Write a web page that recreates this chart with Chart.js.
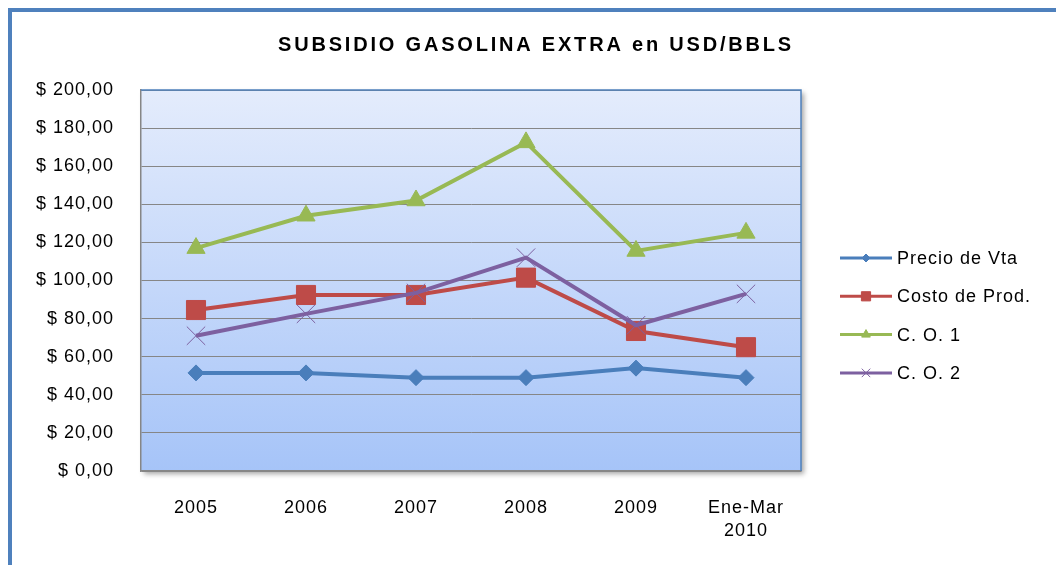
<!DOCTYPE html>
<html>
<head>
<meta charset="utf-8">
<script src="https://cdn.jsdelivr.net/npm/chart.js@4/dist/chart.umd.min.js"></script>
<style>
  body { margin: 0; background: #fff; }
  #frame { position: absolute; left: 8px; top: 8px; width: 1100px; height: 600px;
           border-top: 4px solid #4F81BD; border-left: 4px solid #4F81BD; }
  #chart { position: absolute; left: 0; top: 0; }
</style>
</head>
<body>
<div id="frame"></div>
<canvas id="chart" width="1056" height="565"></canvas>
<script>
const categories = ["2005", "2006", "2007", "2008", "2009", ["Ene-Mar", "2010"]];
const precioVta = [51.5, 51.5, 49, 49, 54, 49];
const costoProd = [84.5, 92.4, 92.4, 101.5, 73.5, 65];
const co1 = [117, 134, 142, 172.5, 115.5, 125];
const co2 = [71, 82.5, 93.5, 112, 76.5, 93];
const seriesNames = ["Precio de Vta", "Costo de Prod.", "C. O. 1", "C. O. 2"];
const seriesColors = ["#4A7EBB", "#BE4B48", "#98B954", "#7D60A0"];
const chartTitle = "SUBSIDIO GASOLINA EXTRA en USD/BBLS";

const FONT = "'Liberation Sans', Arial, sans-serif";

const formatMoney = (v) => "$ " + v.toFixed(2).replace(".", ",");

// plot area fill, shadow and blue top/right edges
const plotBackground = {
  id: "plotBackground",
  beforeDraw(chart) {
    const { ctx, chartArea: a } = chart;
    // the original text is spaced out a bit
    ctx.letterSpacing = "1px";
    ctx.save();
    ctx.shadowColor = "rgba(0,0,0,0.35)";
    ctx.shadowBlur = 5;
    ctx.shadowOffsetX = 3;
    ctx.shadowOffsetY = 3;
    const g = ctx.createLinearGradient(0, a.top, 0, a.bottom);
    g.addColorStop(0, "#E4ECFC");
    g.addColorStop(1, "#A6C4F8");
    ctx.fillStyle = g;
    ctx.fillRect(a.left, a.top, a.right - a.left, a.bottom - a.top);
    ctx.restore();
  },
  beforeDatasetsDraw(chart) {
    const { ctx, chartArea: a } = chart;
    ctx.save();
    ctx.strokeStyle = "#4F81BD";
    ctx.lineWidth = 1.5;
    ctx.beginPath();
    ctx.moveTo(a.left, a.top);
    ctx.lineTo(a.right, a.top);
    ctx.lineTo(a.right, a.bottom);
    ctx.stroke();
    ctx.restore();
  }
};

// title + legend drawn as line + marker, like the spreadsheet one
const lineLegend = {
  id: "lineLegend",
  afterDraw(chart) {
    const ctx = chart.ctx;
    ctx.save();
    ctx.letterSpacing = "2.8px";
    ctx.fillStyle = "#000";
    ctx.font = "bold 20px " + FONT;
    ctx.textAlign = "center";
    ctx.textBaseline = "alphabetic";
    ctx.fillText(chartTitle, 536, 51);
    ctx.restore();

    const markers = [
      { pointStyle: "rectRot", radius: 4 },
      { pointStyle: "rect", radius: 6.5 },
      { pointStyle: "triangle", radius: 5 },
      { pointStyle: "crossRot", radius: 6 }
    ];
    ctx.save();
    ctx.letterSpacing = "1px";
    chart.data.datasets.forEach((ds, i) => {
      const y = 258 + i * 38.3;
      ctx.strokeStyle = ds.borderColor;
      ctx.lineWidth = 3;
      ctx.beginPath();
      ctx.moveTo(840, y);
      ctx.lineTo(892, y);
      ctx.stroke();
      ctx.fillStyle = ds.borderColor;
      ctx.strokeStyle = ds.borderColor;
      ctx.lineWidth = 1;
      Chart.helpers.drawPoint(ctx, { pointStyle: markers[i].pointStyle, radius: markers[i].radius, borderWidth: 1, rotation: 0 }, 866, y);
      ctx.fillStyle = "#000";
      ctx.font = "18px " + FONT;
      ctx.textBaseline = "middle";
      ctx.textAlign = "left";
      ctx.fillText(ds.label, 897, y + 1);
    });
    ctx.restore();
  }
};

function makeDataset(i, values, style, radius, order) {
  return {
    label: seriesNames[i],
    data: values,
    borderColor: seriesColors[i],
    backgroundColor: seriesColors[i],
    borderWidth: 4,
    tension: 0,
    pointStyle: style,
    pointRadius: radius,
    pointHoverRadius: radius,
    pointBackgroundColor: seriesColors[i],
    pointBorderColor: seriesColors[i],
    pointBorderWidth: 1,
    order: order
  };
}

new Chart(document.getElementById("chart"), {
  type: "line",
  data: {
    labels: categories,
    datasets: [
      makeDataset(0, precioVta, "rectRot", 8, 2),
      makeDataset(1, costoProd, "rect", 13.5, 1),
      makeDataset(2, co1, "triangle", 10.5, 0),
      makeDataset(3, co2, "crossRot", 13, -1)
    ]
  },
  options: {
    responsive: false,
    animation: false,
    events: [],
    layout: { padding: { left: 0, right: 255, top: 90, bottom: 0 } },
    plugins: {
      legend: { display: false },
      tooltip: { enabled: false },
      title: { display: false }
    },
    scales: {
      x: {
        offset: true,
        grid: { display: false, drawTicks: false },
        border: { color: "#868686", width: 1.5 },
        ticks: { color: "#000", font: { family: FONT, size: 18, lineHeight: 1.3 }, padding: 25, maxRotation: 0, autoSkip: false },
        afterFit: (s) => { s.height = 94; }
      },
      y: {
        min: 0,
        max: 200,
        grid: { color: "#868686", lineWidth: 1, drawTicks: false },
        border: { color: "#868686", width: 1.5 },
        ticks: { stepSize: 20, color: "#000", font: { family: FONT, size: 18 }, padding: 27, callback: (v) => formatMoney(v) },
        afterFit: (s) => { s.width = 141; }
      }
    }
  },
  plugins: [plotBackground, lineLegend]
});
</script>
</body>
</html>
